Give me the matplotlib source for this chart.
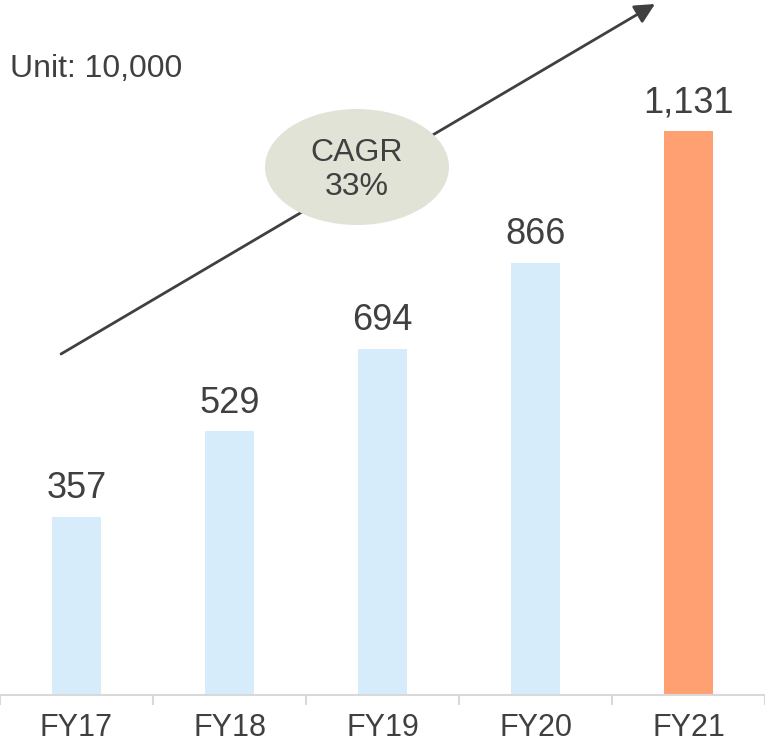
import matplotlib
matplotlib.use('Agg')
import matplotlib.pyplot as plt
from matplotlib.patches import Ellipse

### DATA ###

years = ['FY17', 'FY18', 'FY19', 'FY20', 'FY21']
values = [357, 529, 694, 866, 1131]
bar_colors = ['#d6ecfb', '#d6ecfb', '#d6ecfb', '#d6ecfb', '#ffa072']
cagr_label = 'CAGR\n33%'
unit_label = 'Unit: 10,000'

### STYLE ###

plt.rcParams['font.family'] = ['Liberation Sans', 'DejaVu Sans']
text_color = '#404040'
axis_color = '#d9d9d9'

### PLOT ###

fig = plt.figure(figsize=(7.65, 7.46), dpi=100)
ax = fig.add_axes([0, 51 / 746, 1, 695 / 746])

x = range(len(years))
bars = ax.bar(x, values, width=0.315, color=bar_colors, zorder=2)

# value labels above each bar
for rect, v in zip(bars, values):
  ax.annotate(f'{v:,}', (rect.get_x() + rect.get_width() / 2, rect.get_height()),
              xytext=(0, 13.5), textcoords='offset points',
              ha='center', va='baseline', fontsize=26, color=text_color)

ax.set_xlim(-0.5, len(years) - 0.5)
ax.set_ylim(0, 1394)

# axis styling
for side in ['top', 'right', 'left']:
  ax.spines[side].set_visible(False)
ax.spines['bottom'].set_color(axis_color)
ax.spines['bottom'].set_linewidth(1.5)
ax.set_yticks([])
ax.set_xticks(list(x))
ax.set_xticklabels(years, fontsize=22, color=text_color)
ax.tick_params(axis='x', which='major', length=0, pad=13)
ax.set_xticks([i - 0.5 for i in range(len(years) + 1)], minor=True)
ax.tick_params(axis='x', which='minor', length=7.5, width=1.5, color=axis_color)
for t in ax.xaxis.get_minorticklines():
  t.set_clip_on(False)

# growth arrow and CAGR bubble
ax.annotate('', xy=(655 / 765, 691 / 695), xytext=(61 / 765, 341 / 695),
            xycoords='axes fraction', textcoords='axes fraction',
            arrowprops=dict(arrowstyle='-|>', color=text_color, lw=2,
                            mutation_scale=30, shrinkA=0, shrinkB=0),
            zorder=3)
ax.add_patch(Ellipse((357 / 765, 528 / 695), 184 / 765, 116 / 695,
                     transform=ax.transAxes, facecolor='#e2e3d7',
                     edgecolor='none', zorder=4))
ax.text(357 / 765, 525 / 695, cagr_label, transform=ax.transAxes,
        ha='center', va='center', fontsize=23, color=text_color,
        linespacing=1.15, zorder=5)

fig.text(10 / 765, 1 - 77 / 746, unit_label, ha='left', va='baseline',
         fontsize=23, color=text_color)

fig.savefig('out.png', dpi=100)
